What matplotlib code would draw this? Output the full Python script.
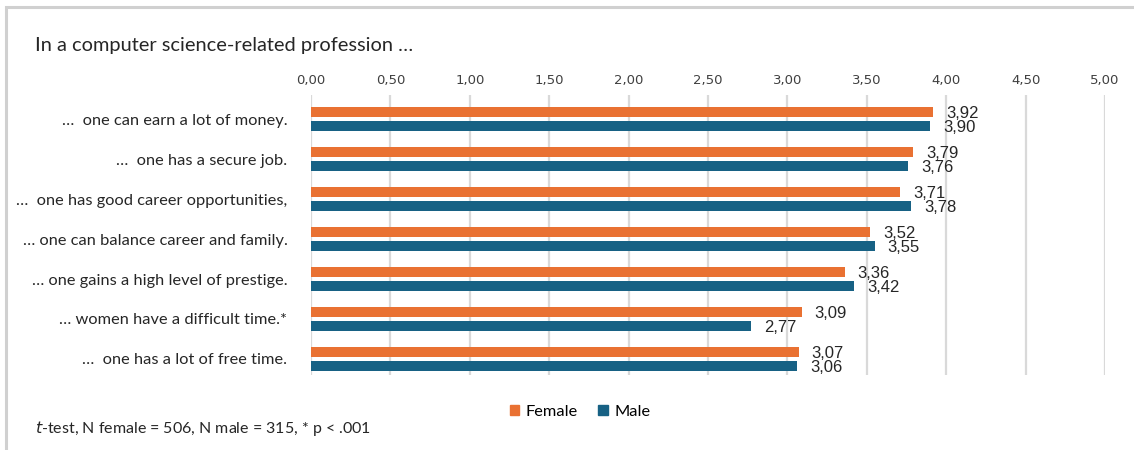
import matplotlib
matplotlib.use("Agg")
import matplotlib.pyplot as plt
from matplotlib.patches import Rectangle, Patch
import numpy as np

categories = [
    "…  one can earn a lot of money.",
    "…  one has a secure job.",
    "…  one has good career opportunities,",
    "… one can balance career and family.",
    "… one gains a high level of prestige.",
    "… women have a difficult time.*",
    "…  one has a lot of free time.",
]
female = [3.92, 3.79, 3.71, 3.52, 3.36, 3.09, 3.07]
male = [3.90, 3.76, 3.78, 3.55, 3.42, 2.77, 3.06]
xticks = [0, 0.5, 1.0, 1.5, 2.0, 2.5, 3.0, 3.5, 4.0, 4.5, 5.0]

ORANGE = "#E97132"
BLUE = "#176184"
GRID = "#D9D9D9"
TEXT = "#262626"

W, H = 1134, 450
fig = plt.figure(figsize=(W / 100, H / 100), dpi=100)
fig.patch.set_facecolor("white")

# outer chart frame (only top/left edges fall inside the canvas)
fig.add_artist(Rectangle((6 / W, -0.1), 1.2, 1 - 7 / H + 0.1, transform=fig.transFigure,
                         fill=False, edgecolor="#D0D0D0", linewidth=2.2, zorder=0))

ax = fig.add_axes([311 / W, 1 - 375 / H, (1105 - 311) / W, (375 - 95) / H])
y = np.arange(len(categories))
bh = 0.26
off = 0.175
ax.barh(y - off, female, height=bh, color=ORANGE, zorder=3, label="Female")
ax.barh(y + off, male, height=bh, color=BLUE, zorder=3, label="Male")

ax.set_xlim(0, 5)
ax.set_ylim(len(categories) - 0.6, -0.6)
ax.set_xticks(xticks)
ax.set_xticklabels([f"{t:.2f}".replace(".", ",") for t in xticks],
                   fontsize=9.5, color="#404040", family=["Liberation Sans Narrow", "DejaVu Sans"])
ax.xaxis.tick_top()
ax.tick_params(axis="x", length=0, pad=6)
ax.set_yticks(y)
ax.set_yticklabels(categories, fontsize=11.8, color=TEXT, family="Lato")
ax.tick_params(axis="y", length=0, pad=17)
for s in ax.spines.values():
    s.set_visible(False)
ax.grid(axis="x", color=GRID, linewidth=1.6, zorder=0)

px = 5 / (1105 - 311)
for i in range(len(categories)):
    ax.text(female[i] + 13 * px, y[i] - off + 0.03, f"{female[i]:.2f}".replace(".", ","),
            va="center", ha="left", fontsize=12, color=TEXT, family="Liberation Sans")
    ax.text(male[i] + 13 * px, y[i] + off + 0.03, f"{male[i]:.2f}".replace(".", ","),
            va="center", ha="left", fontsize=12, color=TEXT, family="Liberation Sans")

fig.text(35 / W, 1 - 46 / H, "In a computer science-related profession …", fontsize=14.4,
         color=TEXT, family="Lato", va="center", ha="left")

handles = [Patch(color=ORANGE, label="Female"), Patch(color=BLUE, label="Male")]
fig.legend(handles=handles, loc="center", bbox_to_anchor=(580 / W, 1 - 412 / H), ncol=2,
           frameon=False, handlelength=0.6, handleheight=0.6, handletextpad=0.4,
           columnspacing=1.2, prop={"family": "Lato", "size": 11.8})

fig.text(35 / W, 1 - 428 / H, r"$\it{t}$-test, N female = 506, N male = 315, * p < .001",
         fontsize=11.5, color=TEXT, family="Lato", va="center", ha="left")

fig.savefig("out.png", dpi=100)
